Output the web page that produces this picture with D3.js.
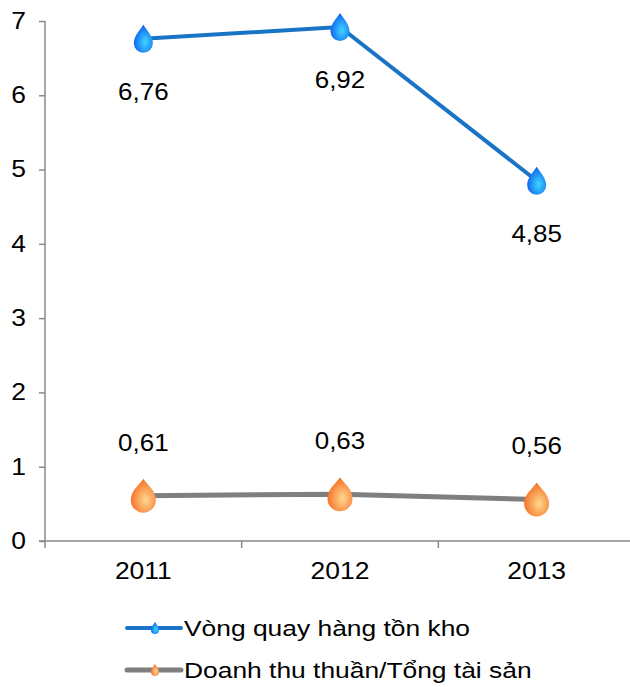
<!DOCTYPE html>
<html>
<head>
<meta charset="utf-8">
<script src="https://cdn.jsdelivr.net/npm/d3@7"></script>
<style>
  body { margin: 0; background: #fff; }
  text { font-family: "Liberation Sans", Arial, sans-serif; }
</style>
</head>
<body>
<svg id="chart" width="630" height="687"></svg>
<script>
var years = ["2011", "2012", "2013"];
var inventoryTurnover = [6.76, 6.92, 4.85];
var assetTurnover = [0.61, 0.63, 0.56];
var yTicks = [0, 1, 2, 3, 4, 5, 6, 7];
var seriesNames = ["Vòng quay hàng tồn kho", "Doanh thu thuần/Tổng tài sản"];

var svg = d3.select("#chart"),
    plotLeft = 45,
    plotRight = 635,
    plotTop = 21,
    plotBottom = 541;

var x = d3.scaleBand().domain(years).range([plotLeft, plotRight]);
var y = d3.scaleLinear().domain([0, 7]).range([plotBottom, plotTop]);

// the source picture has slightly wide lettering
function stretch(sel, k) {
    sel.attr("transform", function () {
        var xx = +this.getAttribute("x") || 0;
        return "translate(" + xx + ",0) scale(" + k + ",1) translate(" + (-xx) + ",0)";
    });
}

var defs = svg.append("defs");
function dropGradient(id, light, dark) {
    var g = defs.append("radialGradient").attr("id", id)
        .attr("cx", "60%").attr("cy", "62%").attr("r", "65%");
    g.append("stop").attr("offset", "0%").attr("stop-color", light);
    g.append("stop").attr("offset", "100%").attr("stop-color", dark);
}
dropGradient("gBlue", "#3fd6ff", "#0a5cf0");
dropGradient("gOrange", "#ffd890", "#f56a1e");

// drop shape, centred on its bounding box
function dropPath(w, h) {
    var r = w / 2, cy = h / 2 - r, t = -h / 2;
    return "M0," + t +
        "C" + (r * 0.35) + "," + (t + h * 0.2) + " " + r + "," + (cy - r * 0.8) + " " + r + "," + cy +
        "A" + r + "," + r + " 0 1 1 " + (-r) + "," + cy +
        "C" + (-r) + "," + (cy - r * 0.8) + " " + (-r * 0.35) + "," + (t + h * 0.2) + " 0," + t + "Z";
}

// axes
var yAxis = d3.axisLeft(y).tickValues(yTicks).tickSize(6).tickPadding(13).tickFormat(d3.format("d"));
var gy = svg.append("g").attr("transform", "translate(" + plotLeft + ",0)").call(yAxis);
gy.select(".domain").attr("stroke", "#888").attr("stroke-width", 1.5).attr("d", "M0," + (plotBottom + 7) + "V" + plotTop);
gy.selectAll(".tick line").attr("stroke", "#888").attr("stroke-width", 1.5);
gy.selectAll(".tick text").attr("font-size", 23).attr("fill", "#000").call(stretch, 1.15);

var xAxis = d3.axisBottom(x).tickSize(0).tickPadding(22);
var gx = svg.append("g").attr("transform", "translate(0," + plotBottom + ")").call(xAxis);
gx.select(".domain").attr("stroke", "#888").attr("stroke-width", 1.5).attr("d", "M" + (plotLeft - 6) + ",0H" + plotRight);
gx.selectAll(".tick text").attr("font-size", 23).attr("fill", "#000").call(stretch, 1.15);
gx.selectAll(".sep").data(years.slice(1)).enter().append("line")
    .attr("x1", d => x(d)).attr("x2", d => x(d))
    .attr("y1", 0).attr("y2", 7).attr("stroke", "#888").attr("stroke-width", 1.5);

var cx = d => x(d) + x.bandwidth() / 2;

var series = [
    { values: inventoryTurnover, color: "#1a74c6", width: 4, grad: "gBlue", w: 19, h: 28, dy: 61 },
    { values: assetTurnover, color: "#7f7f7f", width: 5, grad: "gOrange", w: 25, h: 34, dy: -45 }
];

series.forEach(function (s) {
    var pts = years.map((d, i) => [cx(d), y(s.values[i])]);
    svg.append("path").attr("d", d3.line()(pts))
        .attr("fill", "none").attr("stroke", s.color).attr("stroke-width", s.width);
    svg.selectAll(null).data(pts).enter().append("path")
        .attr("d", dropPath(s.w, s.h))
        .attr("transform", d => "translate(" + d[0] + "," + d[1] + ")")
        .attr("fill", "url(#" + s.grad + ")");
    svg.selectAll(null).data(pts).enter().append("text")
        .attr("x", d => d[0]).attr("y", (d, i) => d[1] + s.dy)
        .attr("text-anchor", "middle").attr("font-size", 23)
        .text((d, i) => s.values[i].toFixed(2).replace(".", ","))
        .call(stretch, 1.13);
});

// legend
var legY = [628, 670];
series.forEach(function (s, i) {
    var g = svg.append("g").attr("transform", "translate(0," + legY[i] + ")");
    g.append("line").attr("x1", 127).attr("x2", 181).attr("stroke", s.color)
        .attr("stroke-width", s.width).attr("stroke-linecap", "round");
    g.append("path").attr("d", dropPath(8, 12)).attr("transform", "translate(155,0)")
        .attr("fill", "url(#" + s.grad + ")");
    g.append("text").attr("x", 184).attr("y", 8).attr("font-size", 22)
        .text(seriesNames[i]).call(stretch, 1.2);
});
</script>
</body>
</html>
